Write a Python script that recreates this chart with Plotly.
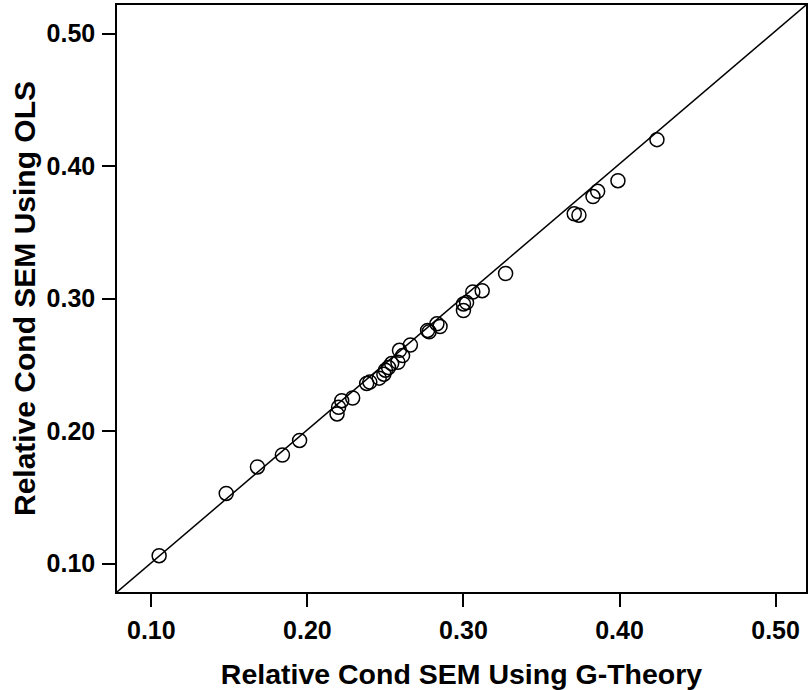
import plotly.graph_objects as go

# Relative conditional SEM: G-Theory (x) vs OLS (y)
g_theory = [0.105, 0.148, 0.168, 0.184, 0.195, 0.219, 0.220, 0.222, 0.229, 0.238,
            0.240, 0.246, 0.249, 0.250, 0.252, 0.254, 0.258, 0.261, 0.259, 0.266,
            0.277, 0.278, 0.283, 0.285, 0.300, 0.300, 0.302, 0.306, 0.312, 0.327,
            0.371, 0.374, 0.383, 0.386, 0.399, 0.424]
ols = [0.106, 0.153, 0.173, 0.182, 0.193, 0.213, 0.218, 0.223, 0.225, 0.236,
       0.237, 0.240, 0.243, 0.246, 0.248, 0.251, 0.252, 0.257, 0.261, 0.265,
       0.276, 0.275, 0.281, 0.279, 0.291, 0.296, 0.297, 0.305, 0.306, 0.319,
       0.364, 0.363, 0.377, 0.381, 0.389, 0.420]

# reference line endpoints (identity-like line, corner to corner)
ref_x = [0.078, 0.5195]
ref_y = [0.0786, 0.5216]

tick_vals = [0.10, 0.20, 0.30, 0.40, 0.50]
tick_text = ["0.10", "0.20", "0.30", "0.40", "0.50"]

x_title = "Relative Cond SEM Using G-Theory"
y_title = "Relative Cond SEM Using OLS"

font_bold = dict(family="Liberation Sans, Arial, sans-serif", size=25, color="black", weight="bold")

fig = go.Figure()
fig.add_trace(go.Scatter(x=ref_x, y=ref_y, mode="lines",
                         line=dict(color="black", width=1.5), showlegend=False, hoverinfo="skip"))
fig.add_trace(go.Scatter(x=g_theory, y=ols, mode="markers",
                         marker=dict(symbol="circle-open", size=14, color="black",
                                     line=dict(width=1.5, color="black")),
                         showlegend=False))

axis_common = dict(showgrid=False, zeroline=False, showline=True, linecolor="black", linewidth=1.5,
                   mirror=True, ticks="outside", ticklen=13, tickwidth=1.5, tickcolor="black",
                   tickvals=tick_vals, ticktext=tick_text, tickfont=font_bold, automargin=False)

fig.update_layout(
    width=809, height=690,
    margin=dict(l=117, r=3, t=5, b=98),
    paper_bgcolor="white", plot_bgcolor="white",
    xaxis=dict(range=[ref_x[0], ref_x[1]], title=dict(text=x_title, font=dict(font_bold, size=28.5), standoff=29),
               ticklabelstandoff=2, **axis_common),
    yaxis=dict(range=[ref_y[0], ref_y[1]], title=dict(text=y_title, font=dict(font_bold, size=30), standoff=2),
               ticklabelstandoff=2, **axis_common),
)

fig.write_html("out.html", config={"displayModeBar": False},
               post_script="document.body.style.margin='0';document.body.style.padding='0';")
